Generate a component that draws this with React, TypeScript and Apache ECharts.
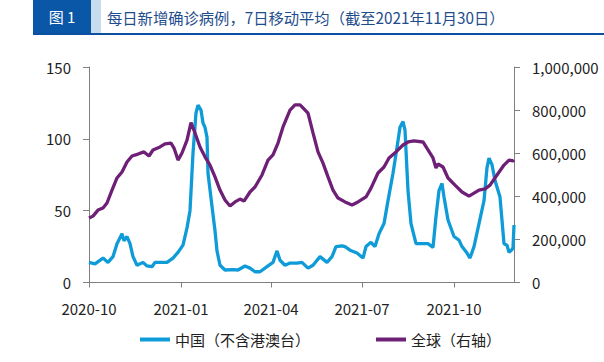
import React, { useEffect, useRef } from "react";
import * as echarts from "echarts";

const chinaName = "中国（不含港澳台）";
const globalName = "全球（右轴）";
const titleTag = "图 1";
const titleText = "每日新增确诊病例，7日移动平均（截至2021年11月30日）";

const chinaDates = [
  "2020-10-01","2020-10-07","2020-10-15","2020-10-20","2020-10-25","2020-10-29","2020-11-03","2020-11-05","2020-11-08","2020-11-11",
  "2020-11-14","2020-11-18","2020-11-24","2020-11-28","2020-12-03","2020-12-06","2020-12-13","2020-12-18","2020-12-24","2020-12-29",
  "2021-01-03","2021-01-07","2021-01-10","2021-01-13","2021-01-16","2021-01-18","2021-01-21","2021-01-23","2021-01-25","2021-01-27",
  "2021-01-28","2021-02-01","2021-02-04","2021-02-06","2021-02-09","2021-02-14","2021-02-22","2021-02-27","2021-03-06","2021-03-11",
  "2021-03-16","2021-03-21","2021-03-28","2021-04-03","2021-04-07","2021-04-10","2021-04-15","2021-04-20","2021-04-27","2021-05-02",
  "2021-05-08","2021-05-13","2021-05-20","2021-05-27","2021-06-01","2021-06-05","2021-06-11","2021-06-14","2021-06-19","2021-06-26",
  "2021-07-02","2021-07-05","2021-07-10","2021-07-14","2021-07-18","2021-07-23","2021-07-27","2021-08-01","2021-08-05","2021-08-08",
  "2021-08-11","2021-08-13","2021-08-16","2021-08-19","2021-08-24","2021-08-29","2021-09-05","2021-09-10","2021-09-13","2021-09-16",
  "2021-09-19","2021-09-21","2021-09-25","2021-10-01","2021-10-06","2021-10-09","2021-10-14","2021-10-17","2021-10-21","2021-10-26",
  "2021-10-31","2021-11-03","2021-11-05","2021-11-08","2021-11-11","2021-11-16","2021-11-20","2021-11-23","2021-11-25","2021-11-28",
  "2021-11-29","2021-11-30"
];
const chinaValues = [
  14,13,17,14,18,27,34,29,32,27,
  18,12,14,11.5,11,14,14,14,17,21,
  26,38,50,90,118,123.5,120,111,108,101,
  76,53,36,22,12,8.7,9,8.7,11.5,10,
  7.5,7.5,11,14,22,15.5,12,13.5,13.5,14,
  10,12,18,14,18,25,25.5,25,22.5,20.5,
  17,25,28,25,34,41,57,76,94,108,
  112,106,64,41,27,27,27,24.5,46,64,
  69,59.5,43.5,32,29.5,25,20.5,17,25,41,
  57,80,86.6,82,71,59.5,27,26,21,23,
  24,40
];

const globalDates = [
  "2020-10-01","2020-10-05","2020-10-10","2020-10-15","2020-10-19","2020-10-24","2020-10-29","2020-11-03","2020-11-08","2020-11-13",
  "2020-11-19","2020-11-25","2020-11-30","2020-12-04","2020-12-11","2020-12-16","2020-12-22","2020-12-25","2020-12-29","2021-01-02",
  "2021-01-07","2021-01-11","2021-01-15","2021-01-20","2021-01-25","2021-01-30","2021-02-04","2021-02-09","2021-02-14","2021-02-19",
  "2021-02-24","2021-03-01","2021-03-05","2021-03-11","2021-03-16","2021-03-23","2021-03-29","2021-04-03","2021-04-08","2021-04-13",
  "2021-04-20","2021-04-25","2021-04-30","2021-05-02","2021-05-08","2021-05-13","2021-05-18","2021-05-23","2021-05-28","2021-06-02",
  "2021-06-07","2021-06-14","2021-06-21","2021-06-27","2021-07-05","2021-07-10","2021-07-17","2021-07-23","2021-07-28","2021-08-04",
  "2021-08-11","2021-08-16","2021-08-22","2021-08-31","2021-09-05","2021-09-10","2021-09-13","2021-09-15","2021-09-20","2021-09-25",
  "2021-10-02","2021-10-09","2021-10-16","2021-10-21","2021-10-26","2021-11-01","2021-11-06","2021-11-13","2021-11-20","2021-11-25",
  "2021-11-29","2021-11-30"
];
const globalValues = [
  299000,308000,336000,346000,369000,429000,485000,513000,559000,587000,
  596000,606000,587000,615000,629000,643000,647000,624000,568000,601000,
  661000,742000,694000,629000,583000,545000,490000,429000,383000,355000,
  374000,387000,378000,420000,443000,499000,568000,592000,647000,722000,
  800000,824000,824000,815000,786000,694000,606000,554000,490000,429000,
  392000,374000,360000,374000,397000,438000,508000,536000,578000,606000,
  638000,652000,657000,652000,615000,578000,531000,550000,536000,485000,
  452000,420000,401000,415000,429000,434000,452000,499000,545000,568000,
  564000,568000
];

const xStart = "2020-10-01";
const xEnd = "2021-11-30";
const xTickDates = ["2020-10-01", "2021-01-01", "2021-04-01", "2021-07-01", "2021-10-01"];

const leftMax = 150;
const leftInterval = 50;
const rightMax = 1000000;
const rightInterval = 200000;

const ts = (s: string) => {
  const [y, m, d] = s.split("-").map(Number);
  return new Date(y, m - 1, d).getTime();
};

const FONT = "'Noto Sans CJK SC', 'Noto Sans', sans-serif";
const BLUE = "#0e9bd8";
const PURPLE = "#6e2077";
const AXIS = "#808080";

export default function App() {
  const ref = useRef<HTMLDivElement>(null);
  useEffect(() => {
    if (!ref.current) return;
    const chart = echarts.init(ref.current, null, { renderer: "svg" });
    const tickVals = xTickDates.map(ts);
    chart.setOption({
      animation: false,
      backgroundColor: "#ffffff",
      textStyle: { fontFamily: FONT },
      grid: { left: 89, right: 90, top: 67, bottom: 79.5, containLabel: false },
      graphic: [
        { type: "rect", shape: { x: 33, y: 0, width: 58, height: 33 }, style: { fill: "#0b57a7" } },
        { type: "rect", shape: { x: 91, y: 0, width: 10, height: 33 }, style: { fill: "#c8dcf0" } },
        { type: "rect", shape: { x: 33, y: 33, width: 571, height: 2 }, style: { fill: "#0c4fa0" } },
        {
          type: "text", x: 62, y: 16.5,
          style: { text: titleTag, fill: "#ffffff", font: `15px ${FONT}`, textAlign: "center", textVerticalAlign: "middle" },
        },
        {
          type: "text", x: 107, y: 16.5,
          style: { text: titleText, fill: "#1e4c8c", font: `15.3px ${FONT}`, textAlign: "left", textVerticalAlign: "middle" },
        },
      ],
      legend: {
        left: 135,
        top: 327,
        itemGap: 66,
        itemWidth: 30,
        itemHeight: 4,
        icon: "rect",
        textStyle: { fontFamily: FONT, fontSize: 15, color: "#222" },
        data: [chinaName, globalName],
      },
      xAxis: {
        type: "value",
        min: ts(xStart),
        max: ts(xEnd),
        axisLine: { lineStyle: { color: AXIS, width: 1 } },
        axisTick: { show: true, length: 5, lineStyle: { color: AXIS }, customValues: tickVals },
        axisLabel: {
          customValues: tickVals,
          margin: 18,
          fontFamily: FONT,
          fontSize: 15,
          color: "#222",
          formatter: (v: number) => {
            const d = new Date(v);
            return `${d.getFullYear()}-${String(d.getMonth() + 1).padStart(2, "0")}`;
          },
        },
        splitLine: { show: false },
      },
      yAxis: [
        {
          type: "value",
          min: 0,
          max: leftMax,
          interval: leftInterval,
          position: "left",
          axisLine: { show: true, lineStyle: { color: AXIS } },
          axisTick: { show: true, length: 6, lineStyle: { color: AXIS } },
          axisLabel: { margin: 18, fontFamily: FONT, fontSize: 15, color: "#222" },
          splitLine: { show: false },
        },
        {
          type: "value",
          min: 0,
          max: rightMax,
          interval: rightInterval,
          position: "right",
          axisLine: { show: true, lineStyle: { color: AXIS } },
          axisTick: { show: true, length: 6, lineStyle: { color: AXIS } },
          axisLabel: {
            margin: 18, fontFamily: FONT, fontSize: 15, color: "#222",
            formatter: (v: number) => v.toLocaleString("en-US"),
          },
          splitLine: { show: false },
        },
      ],
      series: [
        {
          name: chinaName,
          type: "line",
          yAxisIndex: 0,
          showSymbol: false,
          symbol: "none",
          lineStyle: { color: BLUE, width: 3.3 },
          itemStyle: { color: BLUE },
          data: chinaDates.map((d, i) => [ts(d), chinaValues[i]]),
        },
        {
          name: globalName,
          type: "line",
          yAxisIndex: 1,
          showSymbol: false,
          symbol: "none",
          lineStyle: { color: PURPLE, width: 3.3 },
          itemStyle: { color: PURPLE },
          data: globalDates.map((d, i) => [ts(d), globalValues[i]]),
        },
      ],
    });
    return () => chart.dispose();
  }, []);
  return <div ref={ref} style={{ width: 604, height: 362, position: "absolute", left: 0, top: 0 }} />;
}
